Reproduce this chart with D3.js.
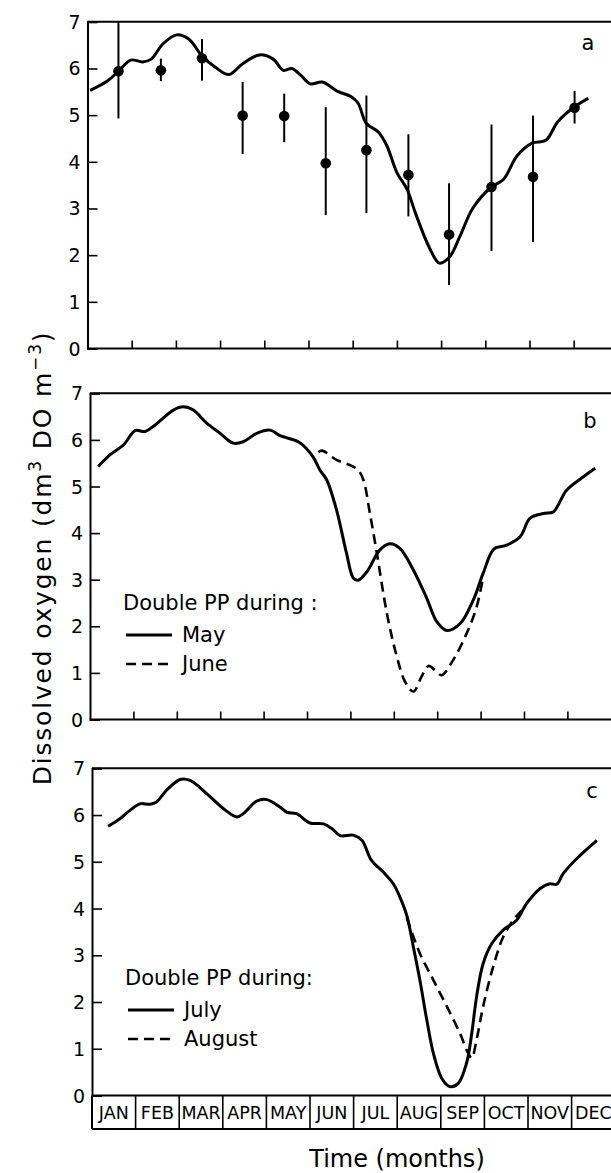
<!DOCTYPE html>
<html><head><meta charset="utf-8">
<script src="https://cdn.jsdelivr.net/npm/d3@7"></script>
<style>
html,body{margin:0;padding:0;background:#fff;}
svg{display:block;font-family:"DejaVu Sans",sans-serif;}
</style></head>
<body>
<svg id="chart" width="611" height="1173"></svg>
<script>
// ---- data ----
const months = ["JAN","FEB","MAR","APR","MAY","JUN","JUL","AUG","SEP","OCT","NOV","DEC"];
const yTicks = [0,1,2,3,4,5,6,7];
const monthTicks = [1,2,3,4,5,6,7,8,9,10,11];

// panel a: observations (mean, range) and model
const obsMonth = [0.70,1.66,2.59,3.51,4.45,5.39,6.31,7.26,8.18,9.14,10.08,11.02];
const obsMean  = [5.94,5.96,6.22,4.99,4.98,3.97,4.25,3.72,2.44,3.46,3.68,5.16];
const obsHigh  = [7.00,6.21,6.63,5.71,5.46,5.17,5.42,4.59,3.54,4.80,4.99,5.52];
const obsLow   = [4.93,5.73,5.74,4.17,4.42,2.86,2.90,2.83,1.36,2.09,2.28,4.82];
const aMonth = [0.06,0.45,0.70,0.98,1.25,1.44,1.71,2.02,2.29,2.59,2.90,3.20,3.51,3.89,4.20,4.43,4.62,4.81,5.04,5.31,5.66,5.96,6.12,6.31,6.58,6.77,7.00,7.23,7.42,7.73,7.96,8.19,8.42,8.72,9.14,9.41,9.72,10.06,10.37,10.64,11.02,11.33];
const aDO    = [5.53,5.73,5.94,6.18,6.14,6.20,6.53,6.72,6.63,6.27,6.02,5.87,6.10,6.29,6.20,5.96,6.00,5.87,5.67,5.71,5.51,5.40,5.26,4.82,4.64,4.35,3.77,3.41,2.90,2.17,1.83,1.96,2.39,3.01,3.46,3.62,4.13,4.40,4.46,4.86,5.18,5.36];

// panel b: double PP during May (solid) / June (dashed)
const bMayMonth = [0.19,0.46,0.77,1.04,1.27,1.50,1.92,2.15,2.38,2.69,3.00,3.30,3.53,3.84,4.15,4.38,4.80,5.00,5.15,5.30,5.45,5.68,5.91,6.07,6.18,6.38,6.68,6.91,7.14,7.45,7.76,7.99,8.22,8.53,8.83,9.06,9.31,9.60,9.91,10.14,10.45,10.68,10.98,11.37,11.64];
const bMayDO    = [5.43,5.68,5.89,6.20,6.18,6.32,6.64,6.71,6.64,6.36,6.14,5.93,5.96,6.14,6.21,6.09,5.96,5.80,5.62,5.35,5.15,4.50,3.57,3.03,2.99,3.17,3.64,3.77,3.67,3.21,2.60,2.10,1.91,2.06,2.56,3.14,3.66,3.74,3.92,4.32,4.42,4.46,4.92,5.21,5.39];
const bJuneMonth = [5.26,5.35,5.68,5.99,6.18,6.30,6.45,6.61,6.84,7.07,7.26,7.45,7.64,7.80,7.95,8.10,8.37,8.68,8.91,9.06];
const bJuneDO    = [5.74,5.77,5.57,5.46,5.35,5.14,4.42,3.57,2.28,1.35,0.81,0.60,0.92,1.15,1.06,0.95,1.28,1.85,2.42,3.06];

// panel c: double PP during July (solid) / August (dashed)
const cJulyMonth = [0.37,0.64,0.87,1.10,1.33,1.48,1.71,2.02,2.25,2.63,3.01,3.32,3.47,3.78,4.01,4.31,4.47,4.69,5.00,5.31,5.50,5.69,5.99,6.19,6.41,6.68,6.91,7.06,7.22,7.37,7.52,7.68,7.83,8.02,8.21,8.40,8.59,8.71,8.82,8.97,9.17,9.43,9.74,9.97,10.28,10.50,10.66,10.81,11.12,11.58];
const cJulyDO    = [5.76,5.92,6.10,6.24,6.23,6.28,6.53,6.76,6.74,6.46,6.14,5.96,6.03,6.30,6.33,6.17,6.06,6.03,5.83,5.81,5.71,5.56,5.57,5.46,5.03,4.78,4.53,4.25,3.85,3.18,2.47,1.61,0.90,0.37,0.19,0.26,0.69,1.33,2.11,2.82,3.25,3.54,3.75,4.11,4.43,4.53,4.52,4.75,5.07,5.46];
const cAugMonth = [7.22,7.52,7.83,8.14,8.44,8.63,8.71,8.82,8.97,9.20,9.43,9.66,9.86];
const cAugDO    = [3.80,3.04,2.47,1.90,1.33,0.90,0.80,1.19,1.90,2.75,3.39,3.75,3.96];

// ---- layout ----
const W = 611;
const panels = [
  {id:"a", x0:87.5, x1:617.9, yTop:21.8, yBot:348.5, labelX:588, labelY:50},
  {id:"b", x0:90,   x1:610.8, yTop:393.3, yBot:719.5, labelX:590, labelY:428},
  {id:"c", x0:92,   x1:615.2, yTop:768.3, yBot:1095.5, labelX:592, labelY:798}
];

const svg = d3.select("#chart");
svg.append("rect").attr("width",611).attr("height",1173).attr("fill","#fff");

const lineGen = (xs, ys) => d3.line().x(d=>xs(d[0])).y(d=>ys(d[1])).curve(d3.curveCatmullRom.alpha(0.5));

panels.forEach(p => {
  p.x = d3.scaleLinear().domain([0,12]).range([p.x0,p.x1]);
  p.y = d3.scaleLinear().domain([0,7]).range([p.yBot,p.yTop]);
  const g = svg.append("g");
  g.append("line").attr("x1",p.x0).attr("x2",W).attr("y1",p.yTop).attr("y2",p.yTop).attr("stroke","#000").attr("stroke-width",2);
  g.append("line").attr("x1",p.x0).attr("x2",W).attr("y1",p.yBot).attr("y2",p.yBot).attr("stroke","#000").attr("stroke-width",2);
  const yAxis = d3.axisRight(p.y).tickValues(yTicks).tickSize(10).tickFormat("");
  const ya = g.append("g").attr("transform",`translate(${p.x0},0)`).call(yAxis);
  ya.select(".domain").attr("stroke","#000").attr("stroke-width",2);
  ya.selectAll(".tick line").attr("stroke","#000").attr("stroke-width",1.6);
  g.selectAll("text.ytl").data(yTicks).enter().append("text")
    .attr("class","ytl").attr("x",p.x0-7).attr("y",d=>p.y(d)+7)
    .attr("text-anchor","end").attr("font-size",19).text(d=>d);
  g.append("text").attr("x",p.labelX).attr("y",p.labelY).attr("text-anchor","middle")
    .attr("font-size",21).text(p.id);
});

[panels[0],panels[1]].forEach(p => {
  const xa = d3.axisTop(p.x).tickValues(monthTicks).tickSize(8).tickFormat("");
  const ga = svg.append("g").attr("transform",`translate(0,${p.yBot})`).call(xa);
  ga.select(".domain").remove();
  ga.selectAll(".tick line").attr("stroke","#000").attr("stroke-width",1.6);
});

(function(){
  const p = panels[2];
  const boxBot = 1129;
  svg.append("line").attr("x1",p.x0).attr("x2",W).attr("y1",boxBot).attr("y2",boxBot).attr("stroke","#000").attr("stroke-width",2);
  svg.selectAll("line.mdiv").data(d3.range(0,13)).enter().append("line").attr("class","mdiv")
    .attr("x1",d=>p.x(d)).attr("x2",d=>p.x(d)).attr("y1",p.yBot).attr("y2",boxBot)
    .attr("stroke","#000").attr("stroke-width",d=>d===0?2:1.6);
  svg.selectAll("text.mon").data(months).enter().append("text").attr("class","mon")
    .attr("x",(d,i)=>p.x(i+0.5)).attr("y",1119).attr("text-anchor","middle")
    .attr("font-size",17.5).text(d=>d);
})();

(function(){
  const p = panels[0];
  svg.append("path").datum(aMonth.map((m,i)=>[m,aDO[i]]))
    .attr("d",lineGen(p.x,p.y)).attr("fill","none").attr("stroke","#000").attr("stroke-width",3);
  const obs = obsMonth.map((m,i)=>({m, v:obsMean[i], hi:obsHigh[i], lo:obsLow[i]}));
  svg.selectAll("line.err").data(obs).enter().append("line").attr("class","err")
    .attr("x1",d=>p.x(d.m)).attr("x2",d=>p.x(d.m)).attr("y1",d=>p.y(d.hi)).attr("y2",d=>p.y(d.lo))
    .attr("stroke","#000").attr("stroke-width",2);
  svg.selectAll("circle.obs").data(obs).enter().append("circle").attr("class","obs")
    .attr("cx",d=>p.x(d.m)).attr("cy",d=>p.y(d.v)).attr("r",5.3).attr("fill","#000");
})();

(function(){
  const p = panels[1];
  svg.append("path").datum(bJuneMonth.map((m,i)=>[m,bJuneDO[i]]))
    .attr("d",lineGen(p.x,p.y)).attr("fill","none").attr("stroke","#000").attr("stroke-width",2.6)
    .attr("stroke-dasharray","10,6");
  svg.append("path").datum(bMayMonth.map((m,i)=>[m,bMayDO[i]]))
    .attr("d",lineGen(p.x,p.y)).attr("fill","none").attr("stroke","#000").attr("stroke-width",3);
})();

(function(){
  const p = panels[2];
  svg.append("path").datum(cAugMonth.map((m,i)=>[m,cAugDO[i]]))
    .attr("d",lineGen(p.x,p.y)).attr("fill","none").attr("stroke","#000").attr("stroke-width",2.6)
    .attr("stroke-dasharray","10,6");
  svg.append("path").datum(cJulyMonth.map((m,i)=>[m,cJulyDO[i]]))
    .attr("d",lineGen(p.x,p.y)).attr("fill","none").attr("stroke","#000").attr("stroke-width",3);
})();

function legend(title, items, x, y){
  const g = svg.append("g");
  g.append("text").attr("x",x).attr("y",y).attr("font-size",21).text(title);
  items.forEach((it,i)=>{
    const ly = y + 25 + i*29;
    g.append("line").attr("x1",x+3).attr("x2",x+49).attr("y1",ly).attr("y2",ly)
      .attr("stroke","#000").attr("stroke-width",it.dash?2.6:3.2)
      .attr("stroke-dasharray",it.dash?"10,6":null);
    g.append("text").attr("x",x+59).attr("y",ly+7).attr("font-size",21).text(it.name);
  });
}
legend("Double PP during :", [{name:"May",dash:false},{name:"June",dash:true}], 123, 610);
legend("Double PP during:", [{name:"July",dash:false},{name:"August",dash:true}], 125, 985);

svg.append("text").attr("transform","translate(51,558) rotate(-90)").attr("text-anchor","middle")
  .attr("font-size",25).attr("letter-spacing",1.8)
  .html('Dissolved oxygen (dm<tspan dy="-10" font-size="17">3</tspan><tspan dy="10"> DO m</tspan><tspan dy="-10" font-size="17">−3</tspan><tspan dy="10">)</tspan>');
svg.append("text").attr("x",397).attr("y",1167).attr("text-anchor","middle").attr("font-size",24).text("Time (months)");
</script>
</body></html>
